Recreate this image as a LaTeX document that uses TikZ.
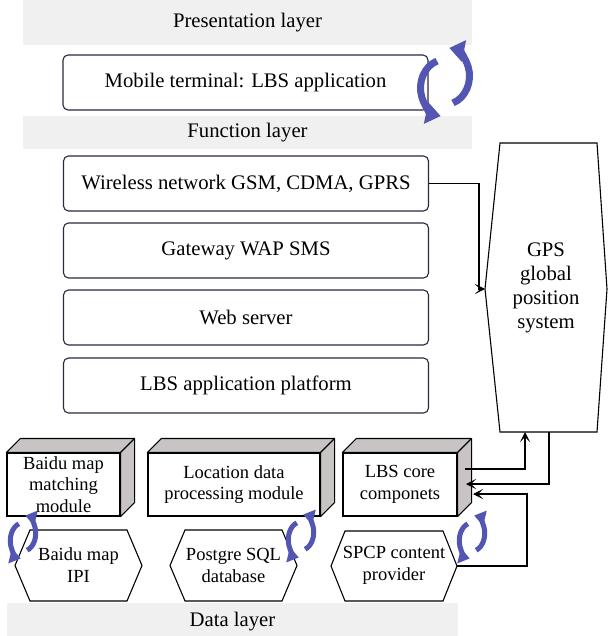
\documentclass[tikz,border=0pt]{standalone}
\usepackage{fontspec}
\setmainfont{Liberation Serif}
\usetikzlibrary{arrows.meta}
\definecolor{bandgray}{RGB}{240,240,240}
\definecolor{facegray}{RGB}{200,196,196}
\definecolor{cycblue}{RGB}{82,86,178}
\definecolor{boxline}{RGB}{40,40,64}
\newcommand\cycicon[7]{% x, y, sx, sy, line width, head width, head length
  \begin{scope}[shift={(#1,#2)}, yscale=-1]
    \draw[cycblue, line width=#5pt, -{Triangle[width=#6pt, length=#7pt]}]
      ({24.5*#3*cos(109)},{-6*#4+28.5*#4*sin(109)}) arc[start angle=109, end angle=260, x radius={24.5*#3}, y radius={28.5*#4}];
    \draw[cycblue, line width=#5pt, -{Triangle[width=#6pt, length=#7pt]}]
      ({24.5*#3*cos(-71)},{6*#4+28.5*#4*sin(-71)}) arc[start angle=-71, end angle=80, x radius={24.5*#3}, y radius={28.5*#4}];
  \end{scope}}
\begin{document}
\begin{tikzpicture}[x=1pt,y=-1pt,
  bandtext/.style={font=\fontsize{20.7}{24}\selectfont, inner sep=0pt},
  rbox/.style={draw=boxline, line width=1.1pt, rounded corners=5pt, fill=white,
    minimum width=365pt, minimum height=55pt, inner sep=0pt, font=\fontsize{20.7}{24}\selectfont},
  front/.style={draw=black, line width=1.1pt, fill=white, minimum height=63pt, inner sep=0pt,
    align=center, font=\fontsize{18.5}{21.5}\selectfont},
  face3d/.style={draw=black, line width=1.1pt, fill=facegray, line join=round},
  hexline/.style={draw=black, line width=1.1pt, fill=white},
  hextext/.style={align=center, inner sep=0pt, font=\fontsize{18.5}{22}\selectfont},
  conn/.style={draw=black, line width=1.1pt, -{Stealth[length=10pt,width=10pt,inset=5pt]}}
]
\useasboundingbox (0,0) rectangle (608,636);
% bands
\fill[bandgray] (23,0) rectangle (472,45);
\node[bandtext] (pres) at (247.5,22.5) {Presentation layer};
\fill[bandgray] (23,116) rectangle (472,149);
\node[bandtext] (func) at (247.5,132.5) {Function layer};
\fill[bandgray] (7,603) rectangle (458,636);
\node[bandtext] (data) at (232.5,622) {Data layer};
% rounded boxes
\node[rbox] (mob) at (245.5,82.5) {Mobile terminal: LBS application};
\node[rbox] (wire) at (246,183.5) {Wireless network GSM, CDMA, GPRS};
\node[rbox] (gate) at (246,250.5) {Gateway WAP SMS};
\node[rbox] (web) at (246,317.5) {Web server};
\node[rbox] (plat) at (246,385.5) {LBS application platform};
% 3D boxes
\node[front, minimum width=113pt] (baidu) at (63.5,484.5) {Baidu map\\matching\\module};
\node[front, minimum width=172pt] (loc) at (234,484.5) {Location data\\processing module};
\node[front, minimum width=114pt] (core) at (400,484.5) {LBS core\\componets};
\foreach \b in {baidu,loc,core}{
  \draw[face3d] (\b.north west) -- ++(14,-14) -| ([shift={(14,-14)}]\b.south east) -- (\b.south east) -- (\b.north east) -- cycle;
  \draw[face3d] (\b.north east) -- ++(14,-14);
}
% hexagons
\draw[hexline] (15,565.5) -- (30,530) -- (127,530) -- (142,565.5) -- (127,601) -- (30,601) -- cycle;
\node[hextext] (ipi) at (78.5,565) {Baidu map\\IPI};
\draw[hexline] (170,565.5) -- (185,530) -- (282,530) -- (297,565.5) -- (282,601) -- (185,601) -- cycle;
\node[hextext] (pg) at (233.5,565) {Postgre SQL\\database};
\draw[hexline] (331,566) -- (345,531) -- (443,531) -- (457,566) -- (443,601) -- (345,601) -- cycle;
\node[hextext] (spcp) at (394,565) {SPCP content\\provider};
\coordinate (spcpE) at (457,566);
% GPS
\draw[hexline] (500,143) -- (597,143) -- (607,289) -- (597,432) -- (500,432) -- (485,289) -- cycle;
\node[align=center, inner sep=0pt, font=\fontsize{20.7}{24}\selectfont] (gps) at (546,288) {GPS\\global\\position\\system};
\coordinate (gpsW) at (485,289);
\coordinate (gpsB1) at (525,432);
\coordinate (gpsB2) at (549,432);
\coordinate (coreOut) at (465,469);
\coordinate (coreIn1) at (466,484);
\coordinate (coreIn2) at (473,494);
\coordinate (spcpBend) at (527,566);
\coordinate (wireBend) at (479,289);
% connectors
\draw[conn] (wire.east) -| (wireBend) -- (gpsW);
\draw[conn] (coreOut) -| (gpsB1);
\draw[conn] (gpsB2) |- (coreIn1);
\draw[conn] (spcpE) -- (spcpBend) |- (coreIn2);
% cycle icons
\cycicon{445}{82}{1}{1}{7}{21}{15}
\cycicon{23}{537}{0.52}{0.63}{5}{15}{11}
\cycicon{301}{536}{0.52}{0.63}{5}{15}{11}
\cycicon{472}{537}{0.52}{0.63}{5}{15}{11}
\end{tikzpicture}
\end{document}
